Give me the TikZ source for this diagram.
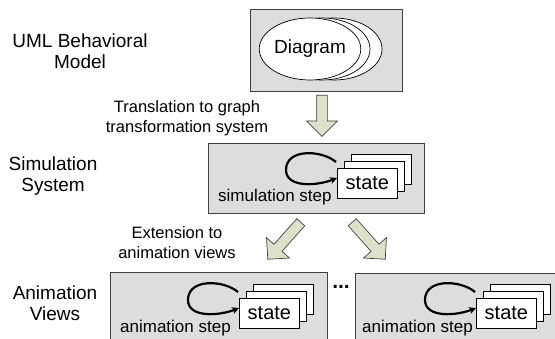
\documentclass[tikz,border=0pt]{standalone}
\usepackage{fontspec}
\setmainfont{Liberation Sans}
\usetikzlibrary{arrows.meta,shapes.geometric,shapes.arrows,calc}

\definecolor{boxgray}{RGB}{221,221,221}
\definecolor{edgegray}{RGB}{64,64,64}
\definecolor{arrowgreen}{RGB}{221,225,202}

% fat arrow between two named points
\newcommand{\fatarrow}[2]{%
  \path let \p1=(#1), \p2=(#2) in
    node[bigarrow, anchor=tail, rotate={atan2(\y2-\y1,\x2-\x1)},
         minimum height={veclen(\x2-\x1,\y2-\y1)}] at (\p1) {};}

% self loop in front of a state stack
\newcommand{\steploop}[1]{%
  \draw[steploop] ([shift={(-1,-6)}]#1.north west)
    .. controls +(-14,-12) and +(0,-22) .. ([shift={(-51,2)}]#1.north west)
    .. controls +(0,18) and +(-20,8) .. ([shift={(0,10)}]#1.north west);}

\begin{document}
\begin{tikzpicture}[x=1pt,y=-1pt]
\tikzstyle{stagebox} = [rectangle, draw=edgegray, fill=boxgray, line width=0.8pt,
  anchor=north west, inner sep=0pt]
\tikzstyle{statebox} = [rectangle, draw=black, fill=white, line width=0.8pt,
  anchor=north west, minimum width=60pt, minimum height=30pt, inner sep=0pt,
  font=\fontsize{20}{22}\selectfont]
\tikzstyle{diagram} = [ellipse, draw=black, fill=white, line width=0.7pt,
  minimum width=96pt, minimum height=62pt, inner sep=0pt,
  font=\fontsize{19}{21}\selectfont]
\tikzstyle{bigarrow} = [single arrow, draw=edgegray, fill=arrowgreen, line width=0.7pt,
  inner xsep=0pt, inner ysep=5pt, minimum width=0pt,
  single arrow head extend=10pt, single arrow tip angle=90]
\tikzstyle{steploop} = [line width=2.2pt, -{Stealth[length=7pt,width=7pt]}]
\tikzstyle{sidelabel} = [align=center, font=\fontsize{19}{21.5}\selectfont]
\tikzstyle{arrowlabel} = [align=center, font=\fontsize{16.5}{20}\selectfont]
\tikzstyle{steptext} = [anchor=base west, inner sep=0pt, font=\fontsize{17}{20}\selectfont]

\useasboundingbox (0,0) rectangle (555,339);
\clip (0,0) rectangle (555,339);

% labels on the left
\node[sidelabel] (umllabel) at (80,51) {UML Behavioral\\Model};
\node[sidelabel] (simlabel) at (53,176) {Simulation\\System};
\node[sidelabel] (animlabel) at (55,303) {Animation\\Views};
\node[arrowlabel] (translabel) at (187,118) {Translation to graph\\transformation system};
\node[arrowlabel] (extlabel) at (177,243) {Extension to\\animation views};

% UML model
\node[stagebox, minimum width=152pt, minimum height=82pt] (uml) at (250,9) {};
\node[diagram] (diag3) at (334,49) {};
\node[diagram] (diag2) at (322,49) {};
\node[diagram] (diag) at (310,49) {Diagram};

% simulation system
\node[stagebox, minimum width=216pt, minimum height=70pt] (sim) at (208,143) {};
\foreach \k in {2,1}
  \node[statebox] (simback\k) at ({337+7*\k},{168-7*\k}) {};
\node[statebox] (simstate) at (337,168) {state};
\steploop{simstate}
\node[steptext] (simstep) at (218,202) {simulation step};

% animation views
\node[stagebox, minimum width=217pt, minimum height=80pt] (animA) at (110,272) {};
\foreach \k in {2,1}
  \node[statebox] (animAback\k) at ({239+7*\k},{298-7*\k}) {};
\node[statebox] (animAstate) at (239,298) {state};
\steploop{animAstate}
\node[steptext] (animAstep) at (120,333) {animation step};

\node[font=\fontsize{21}{22}\selectfont\bfseries] (dots) at (341,287) {...};

\node[stagebox, minimum width=217pt, minimum height=80pt] (animB) at (355,273) {};
\foreach \k in {2,1}
  \node[statebox] (animBback\k) at ({476+7*\k},{298-7*\k}) {};
\node[statebox] (animBstate) at (476,298) {state};
\steploop{animBstate}
\node[steptext] (animBstep) at (362,333) {animation step};

% big arrows
\coordinate (umlout) at (322,95);
\coordinate (simin) at (322,136);
\coordinate (simoutA) at (301,222);
\coordinate (animAin) at (268,259);
\coordinate (simoutB) at (352,222);
\coordinate (animBin) at (385,259);
\fatarrow{umlout}{simin}
\fatarrow{simoutA}{animAin}
\fatarrow{simoutB}{animBin}

\end{tikzpicture}
\end{document}
